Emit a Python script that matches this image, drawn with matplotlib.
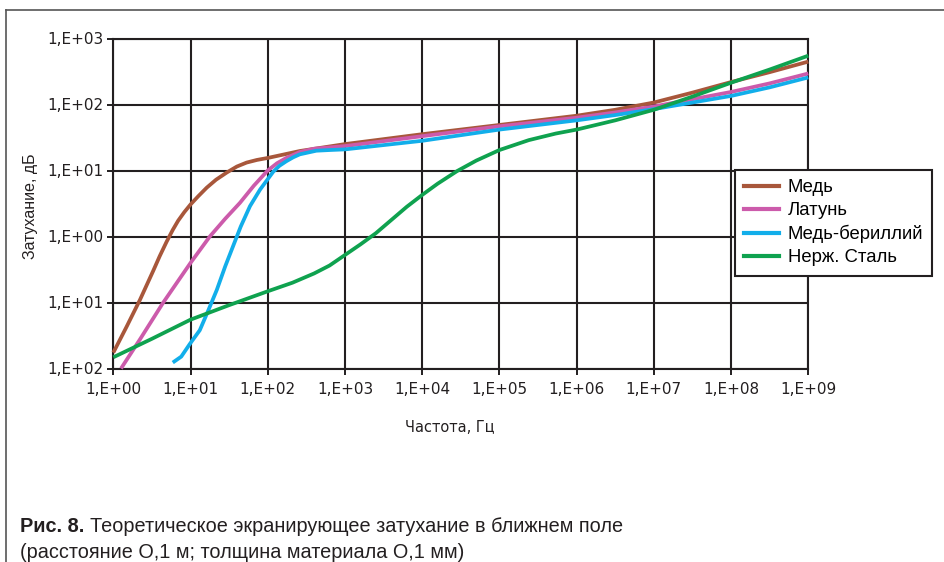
import numpy as np
import matplotlib
matplotlib.use("Agg")
import matplotlib.pyplot as plt
from matplotlib.lines import Line2D

# ---- data (log10 of frequency in Hz, log10 of attenuation) ----
copper_fexp = [0.0, 0.173, 0.345, 0.517, 0.6, 0.69, 0.77, 0.84, 0.92, 1.0, 1.1, 1.21, 1.33, 1.47,
               1.6, 1.726, 1.86, 2.0, 2.415, 3.0, 4.0, 5.0, 6.0, 6.5, 7.0, 7.5, 8.0, 8.5, 9.0]
copper_aexp = [-1.76, -1.365, -0.96, -0.52, -0.30, -0.08, 0.10, 0.24, 0.37, 0.485, 0.61, 0.74, 0.86, 0.97,
               1.06, 1.12, 1.16, 1.19, 1.295, 1.40, 1.55, 1.69, 1.83, 1.92, 2.03, 2.18, 2.34, 2.49, 2.65]

brass_fexp = [0.1, 0.35, 0.647, 1.0, 1.25, 1.45, 1.64, 1.82, 2.0, 2.12, 2.24, 2.415, 2.6, 2.8, 3.0,
              4.0, 5.0, 6.0, 6.5, 7.0, 7.5, 8.0, 8.5, 9.0]
brass_aexp = [-2.0, -1.55, -1.0, -0.4, 0.0, 0.27, 0.51, 0.77, 1.0, 1.11, 1.19, 1.28, 1.33, 1.35, 1.37,
              1.52, 1.67, 1.80, 1.88, 1.97, 2.08, 2.19, 2.32, 2.47]

beryl_fexp = [0.77, 0.88, 0.99, 1.12, 1.23, 1.34, 1.45, 1.55, 1.65, 1.77, 1.90, 2.07, 2.15, 2.24, 2.33,
              2.415, 2.63, 2.8, 3.0, 4.0, 5.0, 6.0, 6.5, 7.0, 7.5, 8.0, 8.5, 9.0]
beryl_aexp = [-1.91, -1.82, -1.63, -1.42, -1.12, -0.81, -0.45, -0.15, 0.15, 0.46, 0.71, 0.98, 1.07, 1.14, 1.20,
              1.245, 1.30, 1.31, 1.32, 1.45, 1.62, 1.76, 1.84, 1.93, 2.03, 2.13, 2.26, 2.41]

steel_fexp = [0.0, 0.5, 1.0, 1.5, 2.0, 2.32, 2.6, 2.8, 3.0, 3.2, 3.4, 3.6, 3.8, 4.0, 4.2, 4.45,
              4.7, 5.0, 5.38, 5.73, 6.0, 6.5, 7.0, 7.5, 8.0, 8.5, 9.0]
steel_aexp = [-1.83, -1.55, -1.26, -1.04, -0.83, -0.70, -0.56, -0.44, -0.28, -0.12, 0.05, 0.25, 0.45,
              0.63, 0.80, 0.99, 1.15, 1.31, 1.46, 1.56, 1.62, 1.76, 1.92, 2.12, 2.33, 2.53, 2.74]

series_names = ["Медь", "Латунь", "Медь-бериллий", "Нерж. Сталь"]
series_colors = ["#A8573B", "#CC5BAB", "#12AEEA", "#0FA24F"]

x_ticks = [1e0, 1e1, 1e2, 1e3, 1e4, 1e5, 1e6, 1e7, 1e8, 1e9]
x_ticklabels = ["1,E+00", "1,E+01", "1,E+02", "1,E+03", "1,E+04", "1,E+05",
                "1,E+06", "1,E+07", "1,E+08", "1,E+09"]
y_ticks = [1e-2, 1e-1, 1e0, 1e1, 1e2, 1e3]
y_ticklabels = ["1,E+02", "1,E+01", "1,E+00", "1,E+01", "1,E+02", "1,E+03"]

x_label = "Частота, Гц"
y_label = "Затухание, дБ"
caption_bold = "Рис. 8."
caption_1 = "Теоретическое экранирующее затухание в ближнем поле"
caption_2 = "(расстояние О,1 м; толщина материала О,1 мм)"

# ---- figure ----
W, H = 944, 562
fig = plt.figure(figsize=(W / 100, H / 100), dpi=100)
plt.rcParams["font.family"] = ["DejaVu Sans"]

def fx(px):
    return px / W

def fy(py):
    return 1 - py / H

ax_l, ax_r, ax_t, ax_b = 113.3, 808.3, 38.5, 368.5
ax = fig.add_axes([fx(ax_l), fy(ax_b), fx(ax_r - ax_l), (ax_b - ax_t) / H])
ax.set_xscale("log")
ax.set_yscale("log")
ax.set_xlim(1e0, 1e9)
ax.set_ylim(1e-2, 1e3)

grid_c = "#231F20"
ax.set_xticks(x_ticks)
ax.set_xticklabels(x_ticklabels)
ax.set_yticks(y_ticks)
ax.set_yticklabels(y_ticklabels)
ax.minorticks_off()
ax.tick_params(axis="both", which="major", direction="out", length=4, width=1.4,
               color=grid_c, labelsize=11, labelcolor="#231F20", pad=3)
ax.tick_params(axis="x", pad=6)
ax.grid(True, which="major", color=grid_c, linewidth=1.5)
for s in ax.spines.values():
    s.set_color(grid_c)
    s.set_linewidth(1.5)
ax.set_axisbelow(True)

data = [(copper_fexp, copper_aexp), (brass_fexp, brass_aexp),
        (beryl_fexp, beryl_aexp), (steel_fexp, steel_aexp)]
for (fe, ae), c, n in zip(data, series_colors, series_names):
    ax.plot(np.power(10.0, fe), np.power(10.0, ae), color=c, linewidth=2.7,
            solid_capstyle="butt", solid_joinstyle="round", label=n, zorder=3, clip_on=False)

# axis labels
fig.text(fx(450), fy(427), x_label, ha="center", va="center", fontsize=10.5,
         color="#231F20")
fig.text(fx(30), fy(206), y_label, ha="center", va="center", rotation=90,
         fontsize=11.5, color="#231F20", family=["Liberation Sans", "DejaVu Sans"])

# legend
handles = [Line2D([0], [0], color=c, linewidth=3) for c in series_colors]
leg = fig.legend(handles, series_names, loc="upper left",
                 bbox_to_anchor=(fx(735), fy(170)), frameon=True, fancybox=False,
                 prop={"family": ["Liberation Sans", "DejaVu Sans"], "size": 13.3},
                 handlelength=1.9, handletextpad=0.45, labelspacing=0.32,
                 borderpad=0.5, borderaxespad=0.0)
leg.get_frame().set_edgecolor(grid_c)
leg.get_frame().set_linewidth(1.5)
leg.get_frame().set_facecolor("white")
leg.get_frame().set_alpha(1)

# page frame (top and left lines)
fig.add_artist(Line2D([fx(6), 1.0], [fy(10), fy(10)], color="#555555", linewidth=1.2))
fig.add_artist(Line2D([fx(6), fx(6)], [fy(10), 0.0], color="#555555", linewidth=1.2))

# caption
cap_font = ["Liberation Sans", "DejaVu Sans"]
t = fig.text(fx(20), fy(527), caption_bold, ha="left", va="center", fontsize=14.3,
             fontweight="bold", color="#231F20", family=cap_font)
fig.canvas.draw()
bb = t.get_window_extent()
fig.text(bb.x1 / W + fx(6), fy(527), caption_1, ha="left", va="center", fontsize=14.3,
         color="#231F20", family=cap_font)
fig.text(fx(20), fy(553), caption_2, ha="left", va="center", fontsize=14.3,
         color="#231F20", family=cap_font)

fig.savefig("out.png", dpi=100)
